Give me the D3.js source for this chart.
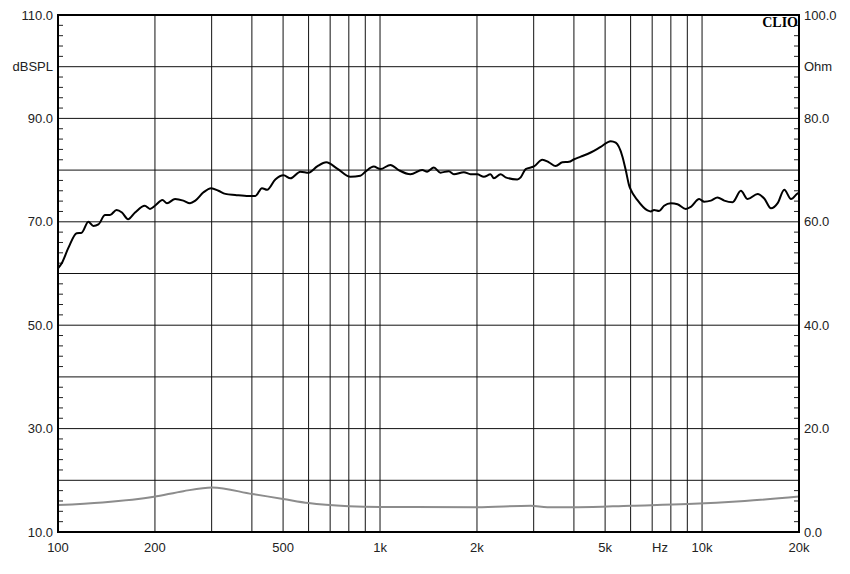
<!DOCTYPE html>
<html lang="en">
<head>
    <meta charset="utf-8">
    <title>CLIO - SPL and impedance</title>
    <script src="https://d3js.org/d3.v7.min.js"></script>
    <style>
        body { margin: 0; background: #fff; }
        svg { display: block; }
        text { font-family: 'Liberation Sans', Arial, sans-serif; font-size: 13px; fill: #222; }
        .clio { font-family: 'Liberation Serif', 'Times New Roman', serif; font-weight: bold; font-size: 14px; fill: #000; }
    </style>
</head>
<body>
<svg id="chart"></svg>

<script>
    // SPL response (frequency in Hz, level in dB SPL)
    const splFreq = [100, 102.7, 107.6, 114.3, 118.5, 124.2, 128.8, 133.5, 140, 145, 152, 158, 165, 173.5,
        186, 193, 200, 211, 218, 231, 245, 257, 267, 283, 299, 315, 331, 355, 391, 410, 430, 446, 473,
        502, 527, 566, 600, 638, 681, 736, 809, 869, 901, 956, 1003, 1077, 1143, 1243, 1352, 1401, 1469,
        1541, 1635, 1696, 1821, 1910, 2004, 2101, 2204, 2257, 2368, 2454, 2669, 2734, 2833, 3006, 3192,
        3346, 3511, 3684, 3862, 4004, 4200, 4510, 4845, 5204, 5395, 5660, 5794, 5933, 6006, 6300, 6769,
        6932, 7096, 7356, 7624, 7998, 8390, 8905, 9231, 9795, 10150, 10650, 11170, 11720, 12440, 13200,
        13850, 14880, 15600, 16370, 17170, 18000, 18890, 19820, 20000];
    const splDb = [61.0, 62.0, 64.9, 67.8, 67.9, 70.0, 69.2, 69.5, 71.3, 71.3, 72.3, 71.8, 70.5, 71.8,
        73.1, 72.5, 73.1, 74.2, 73.6, 74.4, 74.1, 73.6, 74.1, 75.7, 76.5, 76.0, 75.4, 75.2, 75.0, 75.0, 76.5, 76.2, 78.2,
        79.0, 78.4, 79.7, 79.5, 80.7, 81.5, 80.3, 78.7, 78.9, 79.7, 80.7, 80.2, 81.0, 80.0, 79.2, 80.0, 79.7, 80.5,
        79.5, 79.8, 79.2, 79.6, 79.2, 79.2, 78.7, 79.2, 78.4, 79.2, 78.6, 78.2, 78.6, 80.2, 80.7, 82.0,
        81.5, 80.8, 81.5, 81.6, 82.1, 82.6, 83.4, 84.5, 85.6, 85.3, 82.6, 80.0, 77.1, 76.2, 74.2, 72.2,
        72.0, 72.3, 72.1, 73.1, 73.6, 73.4, 72.5, 72.9, 74.4, 73.9, 74.1, 74.7, 74.1, 73.8, 76.0,
        74.4, 75.4, 74.5, 72.6, 73.6, 76.2, 74.4, 75.5, 75.6];

    // Impedance (Hz, Ohm)
    const impFreq = [100, 137.5, 198.6, 245, 301, 401, 500, 600, 800, 1000, 2000, 2936, 3308, 4127, 6020, 9020, 13570, 20000];
    const impOhm = [5.2, 5.7, 6.8, 7.9, 8.6, 7.35, 6.4, 5.6, 5.0, 4.85, 4.8, 5.1, 4.8, 4.8, 5.1, 5.4, 6.0, 6.85];

    // Axis labels
    const xLabelFreq = [100, 200, 500, 1000, 2000, 5000, 10000, 20000];
    const xLabelText = ['100', '200', '500', '1k', '2k', '5k', '10k', '20k'];
    const xUnitFreq = 7400;   // where "Hz" sits
    const dbTicks = [110, 90, 70, 50, 30, 10];
    const ohmTicks = [100, 80, 60, 40, 20, 0];

    const WIDTH = 850, HEIGHT = 574;
    const LEFT = 58, RIGHT = 799, TOP = 15, BOTTOM = 532;

    const svg = d3.select('#chart')
        .attr('width', WIDTH)
        .attr('height', HEIGHT);

    const x = d3.scaleLog().domain([100, 20000]).range([LEFT, RIGHT]);
    const yDb = d3.scaleLinear().domain([10, 110]).range([BOTTOM, TOP]);
    const yOhm = d3.scaleLinear().domain([0, 100]).range([BOTTOM, TOP]);

    // vertical grid: 100..1000 by 100, 1k..10k by 1k
    const gridFreq = [];
    for (let d = 100; d <= 1000; d *= 10) {
        for (let m = 1; m < 10; m++) gridFreq.push(d * m);
    }
    gridFreq.push(10000);

    const grid = svg.append('g').attr('class', 'grid');
    grid.selectAll('line.v')
        .data(gridFreq.filter(f => f > 100))
        .join('line')
        .attr('class', 'v')
        .attr('x1', d => x(d)).attr('x2', d => x(d))
        .attr('y1', TOP).attr('y2', BOTTOM)
        .style('stroke', '#111')
        .style('stroke-width', 1);

    grid.selectAll('line.h')
        .data(d3.range(20, 110, 10))
        .join('line')
        .attr('class', 'h')
        .attr('x1', LEFT).attr('x2', RIGHT)
        .attr('y1', d => yDb(d)).attr('y2', d => yDb(d))
        .style('stroke', '#111')
        .style('stroke-width', 1);

    // small ticks every 2 dB, inside the frame on both sides
    const minor = d3.range(12, 110, 2).filter(v => v % 10 !== 0);
    grid.selectAll('line.ml')
        .data(minor)
        .join('line')
        .attr('class', 'ml')
        .attr('x1', LEFT).attr('x2', LEFT + 5)
        .attr('y1', d => yDb(d)).attr('y2', d => yDb(d))
        .style('stroke', '#222');
    grid.selectAll('line.mr')
        .data(minor)
        .join('line')
        .attr('class', 'mr')
        .attr('x1', RIGHT - 5).attr('x2', RIGHT)
        .attr('y1', d => yDb(d)).attr('y2', d => yDb(d))
        .style('stroke', '#222');

    // curves
    const impLine = d3.line()
        .x(d => x(d[0]))
        .y(d => yOhm(d[1]))
        .curve(d3.curveMonotoneX);
    svg.append('path')
        .datum(impFreq.map((f, i) => [f, impOhm[i]]))
        .attr('d', impLine)
        .style('fill', 'none')
        .style('stroke', '#8c8c8c')
        .style('stroke-width', 2);

    const splLine = d3.line()
        .x(d => x(d[0]))
        .y(d => yDb(d[1]))
        .curve(d3.curveMonotoneX);
    svg.append('path')
        .datum(splFreq.map((f, i) => [f, splDb[i]]))
        .attr('d', splLine)
        .style('fill', 'none')
        .style('stroke', '#000')
        .style('stroke-width', 2)
        .style('stroke-linejoin', 'round');

    // frame
    svg.append('rect')
        .attr('x', LEFT).attr('y', TOP)
        .attr('width', RIGHT - LEFT).attr('height', BOTTOM - TOP)
        .style('fill', 'none')
        .style('stroke', '#000')
        .style('stroke-width', 2);

    // left labels
    svg.selectAll('text.db')
        .data(dbTicks)
        .join('text')
        .attr('class', 'db')
        .attr('x', LEFT - 5)
        .attr('y', d => yDb(d))
        .attr('dy', '0.35em')
        .attr('text-anchor', 'end')
        .text(d => d.toFixed(1));
    svg.append('text')
        .attr('x', LEFT - 5).attr('y', yDb(100)).attr('dy', '0.35em')
        .attr('text-anchor', 'end')
        .text('dBSPL');

    // right labels
    svg.selectAll('text.ohm')
        .data(ohmTicks)
        .join('text')
        .attr('class', 'ohm')
        .attr('x', RIGHT + 5)
        .attr('y', d => yOhm(d))
        .attr('dy', '0.35em')
        .text(d => d.toFixed(1));
    svg.append('text')
        .attr('x', RIGHT + 5).attr('y', yOhm(90)).attr('dy', '0.35em')
        .text('Ohm');

    // bottom labels
    svg.selectAll('text.freq')
        .data(xLabelFreq)
        .join('text')
        .attr('class', 'freq')
        .attr('x', d => x(d))
        .attr('y', BOTTOM + 20)
        .attr('text-anchor', 'middle')
        .text((d, i) => xLabelText[i]);
    svg.append('text')
        .attr('x', x(xUnitFreq)).attr('y', BOTTOM + 20)
        .attr('text-anchor', 'middle')
        .text('Hz');

    svg.append('text')
        .attr('class', 'clio')
        .attr('x', RIGHT - 1).attr('y', TOP + 12)
        .attr('text-anchor', 'end')
        .text('CLIO');
</script>
</body>
</html>
